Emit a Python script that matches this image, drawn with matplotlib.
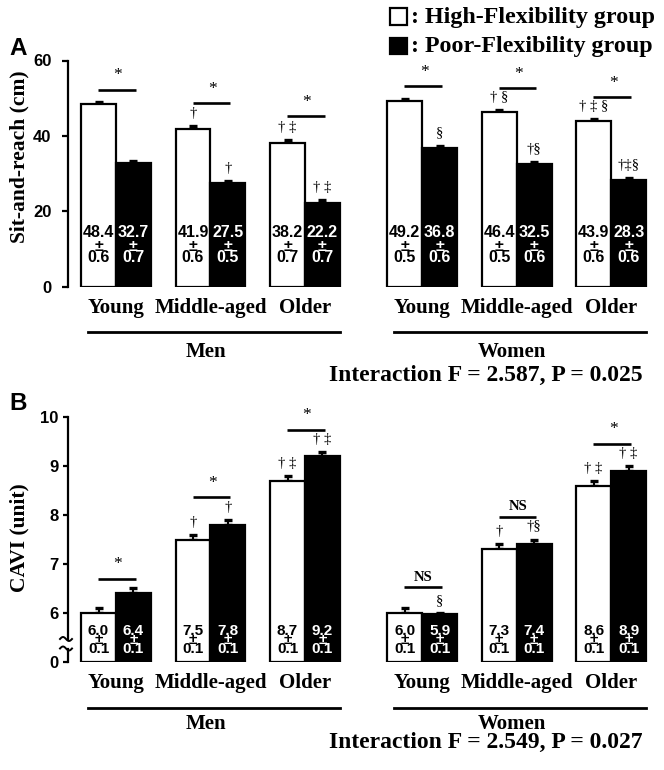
import numpy as np
import matplotlib
matplotlib.use("Agg")
import matplotlib.pyplot as plt
from matplotlib.transforms import Affine2D, blended_transform_factory
from matplotlib.patches import Rectangle
from matplotlib.lines import Line2D

# ---------------- data ----------------
age_groups = ["Young", "Middle-aged", "Older"]
sexes = ["Men", "Women"]

# Panel A: Sit-and-reach (cm)
A_high_men = [48.4, 41.9, 38.2]
A_high_men_sem = [0.6, 0.6, 0.7]
A_poor_men = [32.7, 27.5, 22.2]
A_poor_men_sem = [0.7, 0.5, 0.7]
A_high_women = [49.2, 46.4, 43.9]
A_high_women_sem = [0.5, 0.5, 0.6]
A_poor_women = [36.8, 32.5, 28.3]
A_poor_women_sem = [0.6, 0.6, 0.6]

# Panel B: CAVI (unit)
B_high_men = [6.0, 7.5, 8.7]
B_high_men_sem = [0.1, 0.1, 0.1]
B_poor_men = [6.4, 7.8, 9.2]
B_poor_men_sem = [0.1, 0.1, 0.1]
B_high_women = [6.0, 7.3, 8.6]
B_high_women_sem = [0.1, 0.1, 0.1]
B_poor_women = [5.9, 7.4, 8.9]
B_poor_women_sem = [0.1, 0.1, 0.1]

# significance annotations (text, bar height)
A_sig_text = ["*", "*", "*", "*", "*", "*"]
A_sig_y = [52.3, 48.6, 45.2, 53.3, 52.6, 50.3]
B_sig_text = ["*", "*", "*", "NS", "NS", "*"]
B_sig_y = [6.70, 8.37, 9.75, 6.52, 7.97, 9.46]

A_marks_high = ["", "\u2020", "\u2020 \u2021", "", "\u2020 \u00a7", "\u2020 \u2021 \u00a7"]
A_marks_poor = ["", "\u2020", "\u2020 \u2021", "\u00a7", "\u2020\u00a7", "\u2020\u2021\u00a7"]
B_marks_high = ["", "\u2020", "\u2020 \u2021", "", "\u2020", "\u2020 \u2021"]
B_marks_poor = ["", "\u2020", "\u2020 \u2021", "\u00a7", "\u2020\u00a7", "\u2020 \u2021"]

A_interaction = "Interaction F = 2.587, P = 0.025"
B_interaction = "Interaction F = 2.549, P = 0.027"
legend_labels = [": High-Flexibility group", ": Poor-Flexibility group"]

# ---------------- layout ----------------
W, H = 664, 770
fig = plt.figure(figsize=(W / 100, H / 100), dpi=100)
fig.patch.set_facecolor("white")
PX = Affine2D().scale(1 / W, -1 / H).translate(0, 1) + fig.transFigure

SERIF = "Liberation Serif"
SANS = "Liberation Sans"

pos = np.array([0.0, 1.0, 2.0, 3.24, 4.24, 5.24])
bw = 0.37
xlim = (-0.508, 5.757)


def draw_panel(ax, high, high_sem, poor, poor_sem, sig_text, sig_y, marks_h, marks_p,
               val_offsets, val_fs, ylabel, yticks, letter, letter_y, ylabel_y,
               label_y, line_y, sex_y, inter_y, inter_text, tickpad, ticklen, ylabel_fs):
    xw = pos - bw / 2
    xb = pos + bw / 2
    ax.bar(xw, high, width=bw, color="white", edgecolor="black", linewidth=1.6, zorder=3)
    ax.bar(xb, poor, width=bw, color="black", edgecolor="black", linewidth=1.6, zorder=3)
    for xs, vals, sems in ((xw, high, high_sem), (xb, poor, poor_sem)):
        ax.errorbar(xs, vals, yerr=[np.zeros(len(vals)), sems], fmt="none", ecolor="black",
                    elinewidth=1.5, capsize=2.6, capthick=2.4, zorder=2)
    # values inside the bars
    for xs, vals, sems, col in ((xw, high, high_sem, "black"), (xb, poor, poor_sem, "white")):
        for x, v, s in zip(xs, vals, sems):
            for txt, off in ((f"{v:.1f}", val_offsets[0]), ("\u00b1", val_offsets[1]),
                             (f"{s:.1f}", val_offsets[2])):
                ax.annotate(txt, xy=(x, 0), xytext=(0, off), textcoords="offset points",
                            ha="center", va="center", color=col, fontsize=val_fs,
                            fontweight="bold", family=SANS, zorder=5)
    # dagger/section marks
    for xs, vals, sems, mk in ((xw, high, high_sem, marks_h), (xb, poor, poor_sem, marks_p)):
        for x, v, s, m in zip(xs, vals, sems, mk):
            if m:
                ax.annotate(m, xy=(x, v + s), xytext=(0, 9.0), textcoords="offset points",
                            ha="center", va="center", fontsize=10.5, family=SERIF, zorder=5)
    # significance lines
    for p, t, y in zip(pos, sig_text, sig_y):
        ax.plot([p - 0.19, p + 0.21], [y, y], color="black", lw=1.9, solid_capstyle="butt",
                clip_on=False, zorder=4)
        if t == "*":
            ax.annotate(t, xy=(p + 0.02, y), xytext=(0, 4.5), textcoords="offset points",
                        ha="center", va="bottom", fontsize=12.5, family=SERIF)
        else:
            ax.annotate(t, xy=(p + 0.01, y), xytext=(0, 2.5), textcoords="offset points",
                        ha="center", va="bottom", fontsize=10.5, fontweight="bold", family=SERIF)
    ax.set_xlim(*xlim)
    ax.set_yticks(yticks)
    ax.set_yticklabels([str(t) for t in yticks])
    ax.set_xticks([])
    for sp in ("top", "right", "bottom"):
        ax.spines[sp].set_visible(False)
    ax.spines["left"].set_linewidth(1.6)
    ax.tick_params(axis="y", length=ticklen, width=1.6, pad=tickpad, direction="out")
    for lab in ax.get_yticklabels():
        lab.set_fontfamily(SANS)
        lab.set_fontweight("bold")
        lab.set_fontsize(12)
    ax.set_facecolor("none")

    tr = blended_transform_factory(ax.transData, PX)
    for p, g in zip(pos, age_groups * 2):
        ax.text(p, label_y, g, transform=tr, ha="center", va="center", fontsize=15,
                fontweight="bold", family=SERIF, clip_on=False)
    for k, sx in enumerate(sexes):
        g0, g2 = pos[3 * k], pos[3 * k + 2]
        ax.add_line(Line2D([g0 - 0.3, g2 + 0.37], [line_y, line_y], transform=tr, color="black",
                           lw=2.0, clip_on=False))
        ax.text((g0 + g2) / 2 - 0.05, sex_y, sx, transform=tr, ha="center", va="center",
                fontsize=15, fontweight="bold", family=SERIF, clip_on=False)
    fig.text(643, inter_y, inter_text, transform=PX, ha="right", va="center", fontsize=17,
             fontweight="bold", family=SERIF)
    fig.text(18, letter_y, letter, transform=PX, ha="center", va="center", fontsize=17.5,
             fontweight="bold", family=SANS)
    fig.text(19, ylabel_y, ylabel, transform=PX, ha="center", va="center", rotation=90,
             fontsize=ylabel_fs, fontweight="bold", family=SERIF)


# Panel A
axA = fig.add_axes([68 / W, 1 - 286.7 / H, 592 / W, 226.2 / H])
axA.set_ylim(0, 60)
draw_panel(axA, A_high_men + A_high_women, A_high_men_sem + A_high_women_sem,
           A_poor_men + A_poor_women, A_poor_men_sem + A_poor_women_sem,
           A_sig_text, A_sig_y, A_marks_high, A_marks_poor,
           (39.2, 29.2, 21.2), 11.5, "Sit-and-reach (cm)", [0, 20, 40, 60], "A", 48.5, 157,
           308, 332, 352, 375.5, A_interaction, 8, 4, 15.5)

# Panel B with broken axis (0 -> 6 compressed)
axB = fig.add_axes([68 / W, 1 - 661.7 / H, 592 / W, 244.4 / H])


def fwd(v):
    v = np.asarray(v, dtype=float)
    return np.where(v < 6, v / 6.0, v - 5.0)


def inv(u):
    u = np.asarray(u, dtype=float)
    return np.where(u < 1, u * 6.0, u + 5.0)


axB.set_yscale("function", functions=(fwd, inv))
axB.set_ylim(0, 10)
draw_panel(axB, B_high_men + B_high_women, B_high_men_sem + B_high_women_sem,
           B_poor_men + B_poor_women, B_poor_men_sem + B_poor_women_sem,
           B_sig_text, B_sig_y, B_marks_high, B_marks_poor,
           (22.3, 15.6, 9.4), 11, "CAVI (unit)", [0, 6, 7, 8, 9, 10], "B", 403, 537.5,
           683, 707.5, 724, 742, B_interaction, 3, 3.6, 15.5)
axB.yaxis.set_minor_locator(matplotlib.ticker.NullLocator())
# break on the axis
axB.spines["left"].set_visible(False)
fig.add_artist(Line2D([68, 68], [417.3, 638.5], transform=PX, color="black", lw=1.6))
fig.add_artist(Line2D([68, 68], [649.0, 661.7], transform=PX, color="black", lw=1.6))
tx = np.linspace(60, 72, 30)
for cy in (639.0, 648.5):
    ty = cy - 2.0 * np.sin((tx - 60) / 12 * 2 * np.pi)
    fig.add_artist(Line2D(tx, ty, transform=PX, color="black", lw=1.4))

# legend
fig.add_artist(Rectangle((390, 25), 17, -17, transform=PX, facecolor="white",
                         edgecolor="black", lw=1.6))
fig.add_artist(Rectangle((390, 54), 17, -16, transform=PX, facecolor="black",
                         edgecolor="black", lw=1.6))
fig.text(411, 17, legend_labels[0], transform=PX, ha="left", va="center", fontsize=17.3,
         fontweight="bold", family=SERIF)
fig.text(411, 46.5, legend_labels[1], transform=PX, ha="left", va="center", fontsize=17.3,
         fontweight="bold", family=SERIF)

fig.savefig("out.png", dpi=100)
